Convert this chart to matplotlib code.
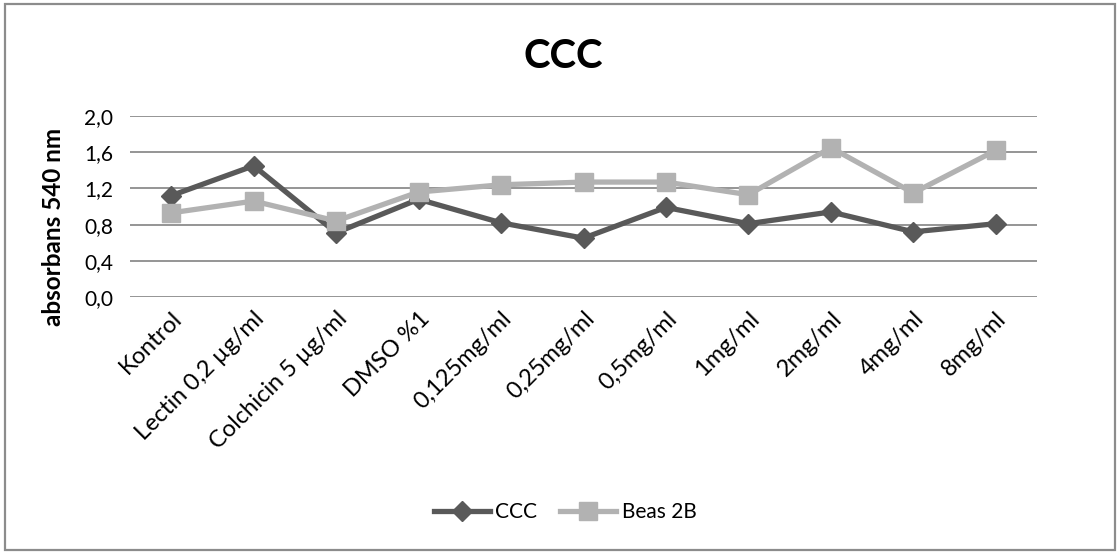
import matplotlib
matplotlib.use("Agg")
import matplotlib.pyplot as plt
from matplotlib.patches import Rectangle
from matplotlib.transforms import ScaledTranslation

categories = ["Kontrol", "Lectin 0,2 µg/ml", "Colchicin 5 µg/ml", "DMSO %1",
              "0,125mg/ml", "0,25mg/ml", "0,5mg/ml", "1mg/ml", "2mg/ml",
              "4mg/ml", "8mg/ml"]
ccc = [1.12, 1.45, 0.71, 1.08, 0.82, 0.65, 0.99, 0.81, 0.94, 0.72, 0.81]
beas = [0.93, 1.06, 0.84, 1.16, 1.24, 1.27, 1.27, 1.13, 1.65, 1.15, 1.62]
yticks = [0.0, 0.4, 0.8, 1.2, 1.6, 2.0]
ytick_labels = ["0,0", "0,4", "0,8", "1,2", "1,6", "2,0"]

plt.rcParams['font.family'] = ['Lato', 'DejaVu Sans']

W, H = 1117, 554
fig = plt.figure(figsize=(W / 100, H / 100), dpi=100)
fig.patch.set_facecolor("white")

# outer chart border
fig.patches.append(Rectangle((5 / W, 4 / H), (1115 - 5) / W, (550 - 4) / H,
                             transform=fig.transFigure, fill=False,
                             edgecolor="#8c8c8c", linewidth=1.6))

ax = fig.add_axes([130 / W, (H - 297) / H, 907 / W, 181 / H])
x = list(range(len(categories)))

ax.plot(x, ccc, color="#595959", linewidth=3.8, marker="D", markersize=10.5,
        label="CCC", zorder=3)
ax.plot(x, beas, color="#b2b2b2", linewidth=3.8, marker="s", markersize=13.5,
        label="Beas 2B", zorder=3)

ax.set_xlim(-0.5, len(categories) - 0.5)
ax.set_ylim(0, 2.0)
ax.set_yticks(yticks)
ax.set_yticklabels(ytick_labels, fontsize=15)
ax.set_xticks(x)
ax.set_xticklabels(categories, rotation=45, ha="right", rotation_mode="anchor",
                   fontsize=17)
off = ScaledTranslation(16 / 100, -8 / 100, fig.dpi_scale_trans)
for lab in ax.get_xticklabels():
    lab.set_transform(lab.get_transform() + off)
ax.tick_params(axis="x", length=0, pad=8)
ax.tick_params(axis="y", length=0, pad=12)
ax.grid(axis="y", color="#8c8c8c", linewidth=1.3)
ax.set_axisbelow(True)
for s in ax.spines.values():
    s.set_visible(False)

fig.text(54 / W, 1 - 227 / H, "absorbans 540 nm", rotation=90, ha="center",
         va="center", fontsize=17.5, fontweight="bold")

fig.text(563 / W, 1 - 57 / H, "CCC", ha="center", va="center",
         fontsize=29, fontweight="bold")

leg = fig.legend(loc="center", bbox_to_anchor=(565 / W, 1 - 512 / H), ncol=2,
                 frameon=False, fontsize=15, handlelength=2.7,
                 columnspacing=1.1, handletextpad=0.25)

fig.savefig("out.png", dpi=100, facecolor="white")
